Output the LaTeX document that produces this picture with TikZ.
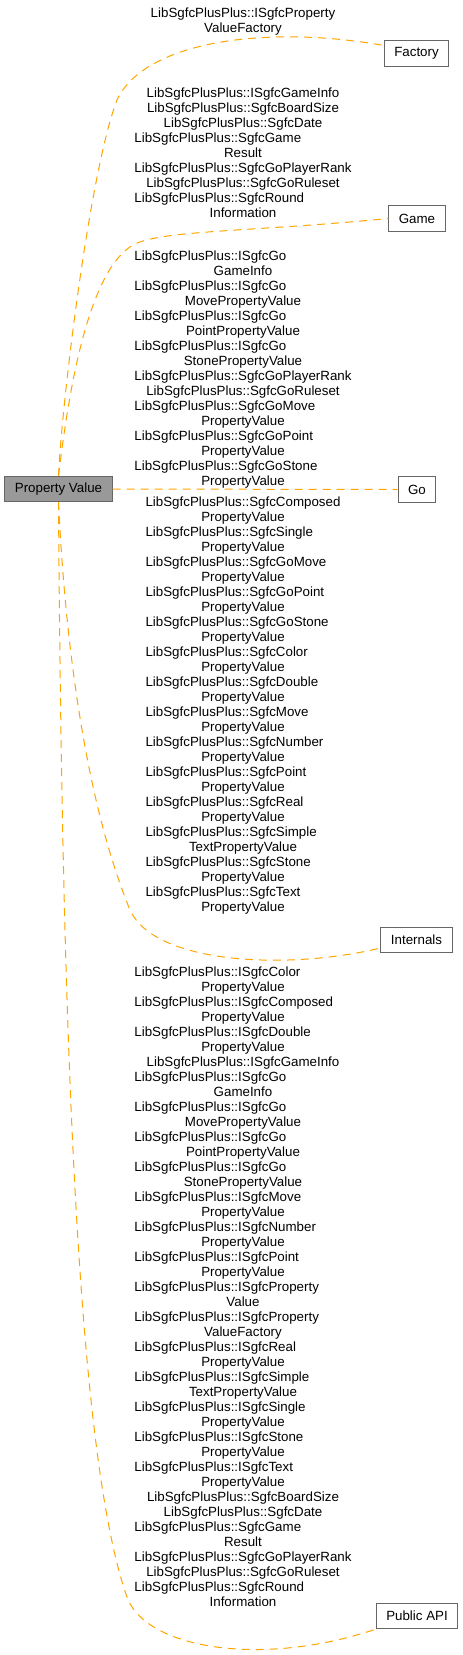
\documentclass[tikz,border=0pt]{standalone}
\usepackage{fontspec}
\setmainfont{Liberation Sans}
\usepackage{xcolor}
\usepackage{tikz}
\usetikzlibrary{calc}

\definecolor{linkorange}{HTML}{FFA500}
\definecolor{boxline}{HTML}{666666}
\definecolor{curfill}{HTML}{999999}

% namespace prefix and a wrapped class name (first part flush left)
\newcommand{\ns}{LibSgfcPlusPlus::}
\newcommand{\wrapname}[2]{\multicolumn{1}{@{}l@{}}{#1}\\#2}

\begin{document}
\begin{tikzpicture}[
  x=0.75pt, y=-0.75pt,
  grp/.style={draw=boxline, fill=white, line width=0.75pt,
              font=\fontsize{10}{12}\selectfont, inner xsep=7.5pt,
              inner ysep=0pt, minimum height=19pt},
  curgrp/.style={grp, fill=curfill},
  lbl/.style={inner sep=0pt, font=\fontsize{10}{11.25}\selectfont},
  link/.style={draw=linkorange, line width=0.75pt,
               dash pattern=on 6pt off 4.5pt}
]
\useasboundingbox (0,0) rectangle (463,1655);

% Groups
\node[curgrp] (pv)  at (58.5,489)  {Property Value};
\node[grp]    (fac) at (416.5,53.5) {Factory};
\node[grp]    (game) at (417,218.5) {Game};
\node[grp]    (go)  at (417,489.5) {Go};
\node[grp]    (int) at (416.5,940) {Internals};
\node[grp]    (api) at (417,1616)  {Public API};

% Links
\draw[link] (pv.north) .. controls (62,400) and (90,170) .. (117,100)
  .. controls (145,40) and (270,25) .. ([yshift=6pt]fac.west);
\draw[link] (pv.north) .. controls (70,380) and (90,270) .. (133,245)
  .. controls (160,230) and (250,232) .. (game.west);
\draw[link] (pv.east) -- (go.west);
\draw[link] (pv.south) .. controls (65,640) and (85,800) .. (130,910)
  .. controls (155,965) and (290,970) .. ([yshift=-6pt]int.west);
\draw[link] (pv.south) .. controls (62,1000) and (75,1450) .. (127,1597)
  .. controls (145,1648) and (260,1668) .. (api.south west);

% Link labels
\node[lbl] (lfac) at (243,22) {\begin{tabular}{@{}c@{}}
  \wrapname{\ns ISgfcProperty}{ValueFactory}
\end{tabular}};

\node[lbl] (lgame) at (243,154.5) {\begin{tabular}{@{}c@{}}
  \ns ISgfcGameInfo\\
  \ns SgfcBoardSize\\
  \ns SgfcDate\\
  \wrapname{\ns SgfcGame}{Result}\\
  \ns SgfcGoPlayerRank\\
  \ns SgfcGoRuleset\\
  \wrapname{\ns SgfcRound}{Information}
\end{tabular}};

\node[lbl] (lgo) at (243,370) {\begin{tabular}{@{}c@{}}
  \wrapname{\ns ISgfcGo}{GameInfo}\\
  \wrapname{\ns ISgfcGo}{MovePropertyValue}\\
  \wrapname{\ns ISgfcGo}{PointPropertyValue}\\
  \wrapname{\ns ISgfcGo}{StonePropertyValue}\\
  \ns SgfcGoPlayerRank\\
  \ns SgfcGoRuleset\\
  \wrapname{\ns SgfcGoMove}{PropertyValue}\\
  \wrapname{\ns SgfcGoPoint}{PropertyValue}\\
  \wrapname{\ns SgfcGoStone}{PropertyValue}
\end{tabular}};

\node[lbl] (lint) at (243,706) {\begin{tabular}{@{}c@{}}
  \wrapname{\ns SgfcComposed}{PropertyValue}\\
  \wrapname{\ns SgfcSingle}{PropertyValue}\\
  \wrapname{\ns SgfcGoMove}{PropertyValue}\\
  \wrapname{\ns SgfcGoPoint}{PropertyValue}\\
  \wrapname{\ns SgfcGoStone}{PropertyValue}\\
  \wrapname{\ns SgfcColor}{PropertyValue}\\
  \wrapname{\ns SgfcDouble}{PropertyValue}\\
  \wrapname{\ns SgfcMove}{PropertyValue}\\
  \wrapname{\ns SgfcNumber}{PropertyValue}\\
  \wrapname{\ns SgfcPoint}{PropertyValue}\\
  \wrapname{\ns SgfcReal}{PropertyValue}\\
  \wrapname{\ns SgfcSimple}{TextPropertyValue}\\
  \wrapname{\ns SgfcStone}{PropertyValue}\\
  \wrapname{\ns SgfcText}{PropertyValue}
\end{tabular}};

\node[lbl] (lapi) at (243,1288) {\begin{tabular}{@{}c@{}}
  \wrapname{\ns ISgfcColor}{PropertyValue}\\
  \wrapname{\ns ISgfcComposed}{PropertyValue}\\
  \wrapname{\ns ISgfcDouble}{PropertyValue}\\
  \ns ISgfcGameInfo\\
  \wrapname{\ns ISgfcGo}{GameInfo}\\
  \wrapname{\ns ISgfcGo}{MovePropertyValue}\\
  \wrapname{\ns ISgfcGo}{PointPropertyValue}\\
  \wrapname{\ns ISgfcGo}{StonePropertyValue}\\
  \wrapname{\ns ISgfcMove}{PropertyValue}\\
  \wrapname{\ns ISgfcNumber}{PropertyValue}\\
  \wrapname{\ns ISgfcPoint}{PropertyValue}\\
  \wrapname{\ns ISgfcProperty}{Value}\\
  \wrapname{\ns ISgfcProperty}{ValueFactory}\\
  \wrapname{\ns ISgfcReal}{PropertyValue}\\
  \wrapname{\ns ISgfcSimple}{TextPropertyValue}\\
  \wrapname{\ns ISgfcSingle}{PropertyValue}\\
  \wrapname{\ns ISgfcStone}{PropertyValue}\\
  \wrapname{\ns ISgfcText}{PropertyValue}\\
  \ns SgfcBoardSize\\
  \ns SgfcDate\\
  \wrapname{\ns SgfcGame}{Result}\\
  \ns SgfcGoPlayerRank\\
  \ns SgfcGoRuleset\\
  \wrapname{\ns SgfcRound}{Information}
\end{tabular}};

\end{tikzpicture}
\end{document}
